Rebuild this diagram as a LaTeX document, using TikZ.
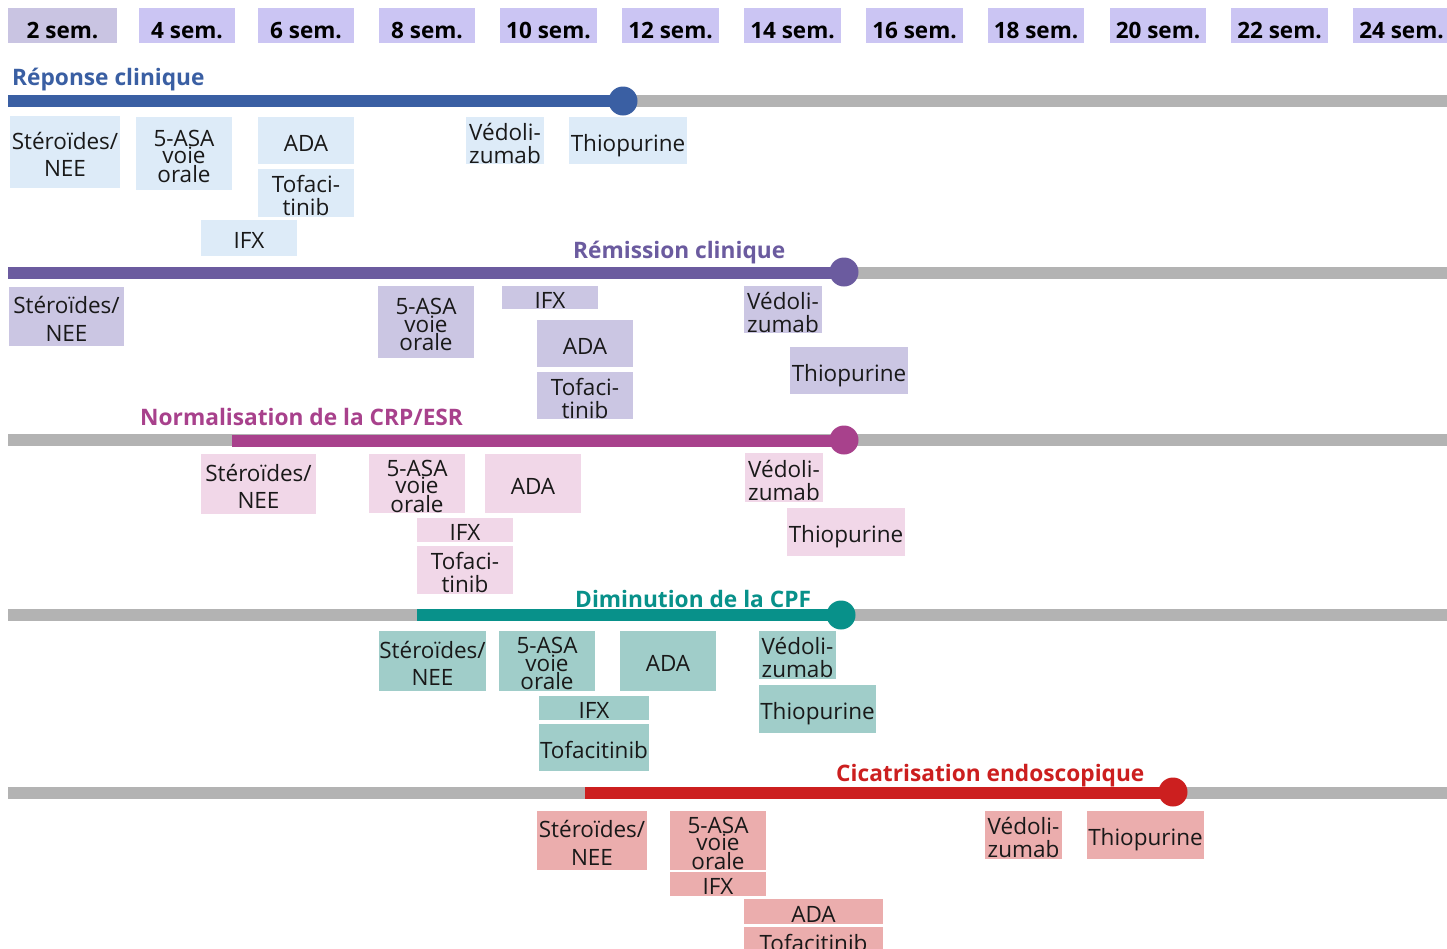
\documentclass[tikz,border=0pt]{standalone}
\usepackage{fontspec}
\setmainfont{Open Sans}
\definecolor{hdrA}{HTML}{C9C4E2}
\definecolor{hdrB}{HTML}{CBC5F3}
\definecolor{cblue}{HTML}{3A5FA3}
\definecolor{cpurple}{HTML}{6B5B9F}
\definecolor{cmag}{HTML}{A8418C}
\definecolor{cteal}{HTML}{08918A}
\definecolor{cred}{HTML}{CC1F1F}
\definecolor{cgray}{HTML}{B3B3B3}
\definecolor{fblue}{HTML}{DDEBF8}
\definecolor{fpurple}{HTML}{CBC6E3}
\definecolor{fpink}{HTML}{F1D7E8}
\definecolor{fteal}{HTML}{A0CDC9}
\definecolor{fred}{HTML}{EBADAD}
\newcommand\dbox[8]{% style, name, fill, x1, y1, x2, y2, text
  \pgfmathsetmacro\cx{(#4+#6)/2}\pgfmathsetmacro\cy{(#5+#7)/2}%
  \pgfmathsetmacro\ww{#6-#4}\pgfmathsetmacro\hh{#7-#5}%
  \node[drugbox,fill=#3,minimum width=\ww pt,minimum height=\hh pt] (#2) at (\cx,\cy) {};
  \node[drugtext,#1] (#2t) at (#2.center) {#8};}
\begin{document}
\begin{tikzpicture}[x=1pt,y=-1pt,
  drugbox/.style={inner sep=0pt,outer sep=0pt},
  drugtext/.style={inner sep=0pt,outer sep=0pt,align=center,text=black!90,yshift=-2.5pt},
  one/.style={font=\fontsize{22.5}{25}\selectfont,text height=16pt,text depth=0pt,yshift=0pt},
  wide/.style={font=\fontsize{22.5}{27.5}\selectfont},
  mid/.style={font=\fontsize{22.5}{23}\selectfont},
  tight/.style={font=\fontsize{22.5}{16}\selectfont},
  hdr/.style={inner sep=0pt,outer sep=0pt,minimum height=35pt,text height=25pt,text depth=0pt,font=\bfseries\fontsize{22.5}{26}\selectfont},
  ttl/.style={anchor=base west,inner sep=0pt,font=\bfseries\fontsize{22.7}{25}\selectfont},
  bar/.style={line width=12pt},
  dot/.style={circle,inner sep=0pt,minimum size=29pt}
]
\useasboundingbox (0,0) rectangle (1447,948);
\clip (0,0) rectangle (1447,948);
\fill[white] (0,0) rectangle (1447,948);
% header
\node[hdr,fill=hdrA,minimum width=109pt] (h2) at (62.5,25.5) {2 sem.};
\node[hdr,fill=hdrB,minimum width=96pt] (h4) at (187,25.5) {4 sem.};
\node[hdr,fill=hdrB,minimum width=96pt] (h6) at (306,25.5) {6 sem.};
\node[hdr,fill=hdrB,minimum width=96pt] (h8) at (427,25.5) {8 sem.};
\node[hdr,fill=hdrB,minimum width=97pt] (h10) at (548.5,25.5) {10 sem.};
\node[hdr,fill=hdrB,minimum width=97pt] (h12) at (670.5,25.5) {12 sem.};
\node[hdr,fill=hdrB,minimum width=97pt] (h14) at (792.5,25.5) {14 sem.};
\node[hdr,fill=hdrB,minimum width=97pt] (h16) at (914.5,25.5) {16 sem.};
\node[hdr,fill=hdrB,minimum width=96pt] (h18) at (1036,25.5) {18 sem.};
\node[hdr,fill=hdrB,minimum width=96pt] (h20) at (1158,25.5) {20 sem.};
\node[hdr,fill=hdrB,minimum width=97pt] (h22) at (1279.5,25.5) {22 sem.};
\node[hdr,fill=hdrB,minimum width=97pt] (h24) at (1401.5,25.5) {24 sem.};
% ---------- Row 1
\node[ttl,text=cblue] (t1) at (12,85) {Réponse clinique};
\coordinate (r1s) at (8,101); \coordinate (r1e) at (1460,101); \coordinate (r1d) at (623,101);
\draw[bar,cgray] (r1s) -- (r1e);
\draw[bar,cblue] (r1s) -- (r1d);
\node[dot,fill=cblue] (r1dot) at (r1d) {};
\dbox{wide}{a1}{fblue}{10}{116}{120}{188}{Stéroïdes/\\NEE}
\dbox{tight}{a2}{fblue}{136}{117}{232}{190}{5-ASA\\voie\\orale}
\dbox{one}{a3}{fblue}{258}{117}{354}{164}{ADA}
\dbox{mid}{a4}{fblue}{258}{169}{354}{217}{Tofaci-\\tinib}
\dbox{one}{a5}{fblue}{201}{220}{297}{256}{IFX}
\dbox{mid}{a6}{fblue}{466}{117}{544}{164}{Védoli-\\zumab}
\dbox{one}{a7}{fblue}{569}{117}{687}{164}{Thiopurine}
% ---------- Row 2
\node[ttl,text=cpurple] (t2) at (573,258) {Rémission clinique};
\coordinate (r2s) at (8,273); \coordinate (r2e) at (1460,273); \coordinate (r2d) at (844,272);
\draw[bar,cgray] (r2s) -- (r2e);
\draw[bar,cpurple] (r2s) -- (r2d|-r2s);
\node[dot,fill=cpurple] (r2dot) at (r2d) {};
\dbox{wide}{b1}{fpurple}{9}{287}{124}{346}{Stéroïdes/\\NEE}
\dbox{tight}{b2}{fpurple}{378}{286}{474}{358}{5-ASA\\voie\\orale}
\dbox{one}{b3}{fpurple}{502}{286}{598}{309}{IFX}
\dbox{one}{b4}{fpurple}{537}{320}{633}{367}{ADA}
\dbox{mid}{b5}{fpurple}{537}{372}{633}{419}{Tofaci-\\tinib}
\dbox{mid}{b6}{fpurple}{744}{286}{822}{333}{Védoli-\\zumab}
\dbox{one}{b7}{fpurple}{790}{347}{908}{394}{Thiopurine}
% ---------- Row 3
\node[ttl,text=cmag] (t3) at (140,425) {Normalisation de la CRP/ESR};
\coordinate (r3s) at (8,440); \coordinate (r3e) at (1460,440); \coordinate (r3m) at (232,441); \coordinate (r3d) at (844,440);
\draw[bar,cgray] (r3s) -- (r3e);
\draw[bar,cmag] (r3m) -- (r3d|-r3m);
\node[dot,fill=cmag] (r3dot) at (r3d) {};
\dbox{wide}{c1}{fpink}{201}{454}{316}{514}{Stéroïdes/\\NEE}
\dbox{tight}{c2}{fpink}{369}{454}{465}{513}{5-ASA\\voie\\orale}
\dbox{one}{c3}{fpink}{485}{454}{581}{513}{ADA}
\dbox{one}{c4}{fpink}{417}{518}{513}{542}{IFX}
\dbox{mid}{c5}{fpink}{417}{546}{513}{594}{Tofaci-\\tinib}
\dbox{mid}{c6}{fpink}{745}{453}{823}{502}{Védoli-\\zumab}
\dbox{one}{c7}{fpink}{787}{508}{905}{556}{Thiopurine}
% ---------- Row 4
\node[ttl,text=cteal] (t4) at (575,607) {Diminution de la CPF};
\coordinate (r4s) at (8,615); \coordinate (r4e) at (1460,615); \coordinate (r4m) at (417,615); \coordinate (r4d) at (841,615);
\draw[bar,cgray] (r4s) -- (r4e);
\draw[bar,cteal] (r4m) -- (r4d);
\node[dot,fill=cteal] (r4dot) at (r4d) {};
\dbox{wide}{d1}{fteal}{379}{631}{486}{691}{Stéroïdes/\\NEE}
\dbox{tight}{d2}{fteal}{499}{631}{595}{691}{5-ASA\\voie\\orale}
\dbox{one}{d3}{fteal}{620}{631}{716}{691}{ADA}
\dbox{one}{d4}{fteal}{539}{696}{649}{720}{IFX}
\dbox{one}{d5}{fteal}{539}{724}{649}{771}{Tofacitinib}
\dbox{mid}{d6}{fteal}{759}{631}{836}{679}{Védoli-\\zumab}
\dbox{one}{d7}{fteal}{759}{685}{876}{733}{Thiopurine}
% ---------- Row 5
\node[ttl,text=cred] (t5) at (836,781) {Cicatrisation endoscopique};
\coordinate (r5s) at (8,793); \coordinate (r5e) at (1460,793); \coordinate (r5m) at (585,793); \coordinate (r5d) at (1173,792);
\draw[bar,cgray] (r5s) -- (r5e);
\draw[bar,cred] (r5m) -- (r5d|-r5m);
\node[dot,fill=cred] (r5dot) at (r5d) {};
\dbox{wide}{e1}{fred}{537}{811}{647}{870}{Stéroïdes/\\NEE}
\dbox{tight}{e2}{fred}{670}{811}{766}{870}{5-ASA\\voie\\orale}
\dbox{one}{e3}{fred}{670}{872}{766}{896}{IFX}
\dbox{one}{e4}{fred}{744}{899}{883}{924}{ADA}
\dbox{one}{e5}{fred}{744}{927}{883}{955}{Tofacitinib}
\dbox{mid}{e6}{fred}{985}{811}{1062}{859}{Védoli-\\zumab}
\dbox{one}{e7}{fred}{1087}{811}{1204}{859}{Thiopurine}
\end{tikzpicture}
\end{document}
